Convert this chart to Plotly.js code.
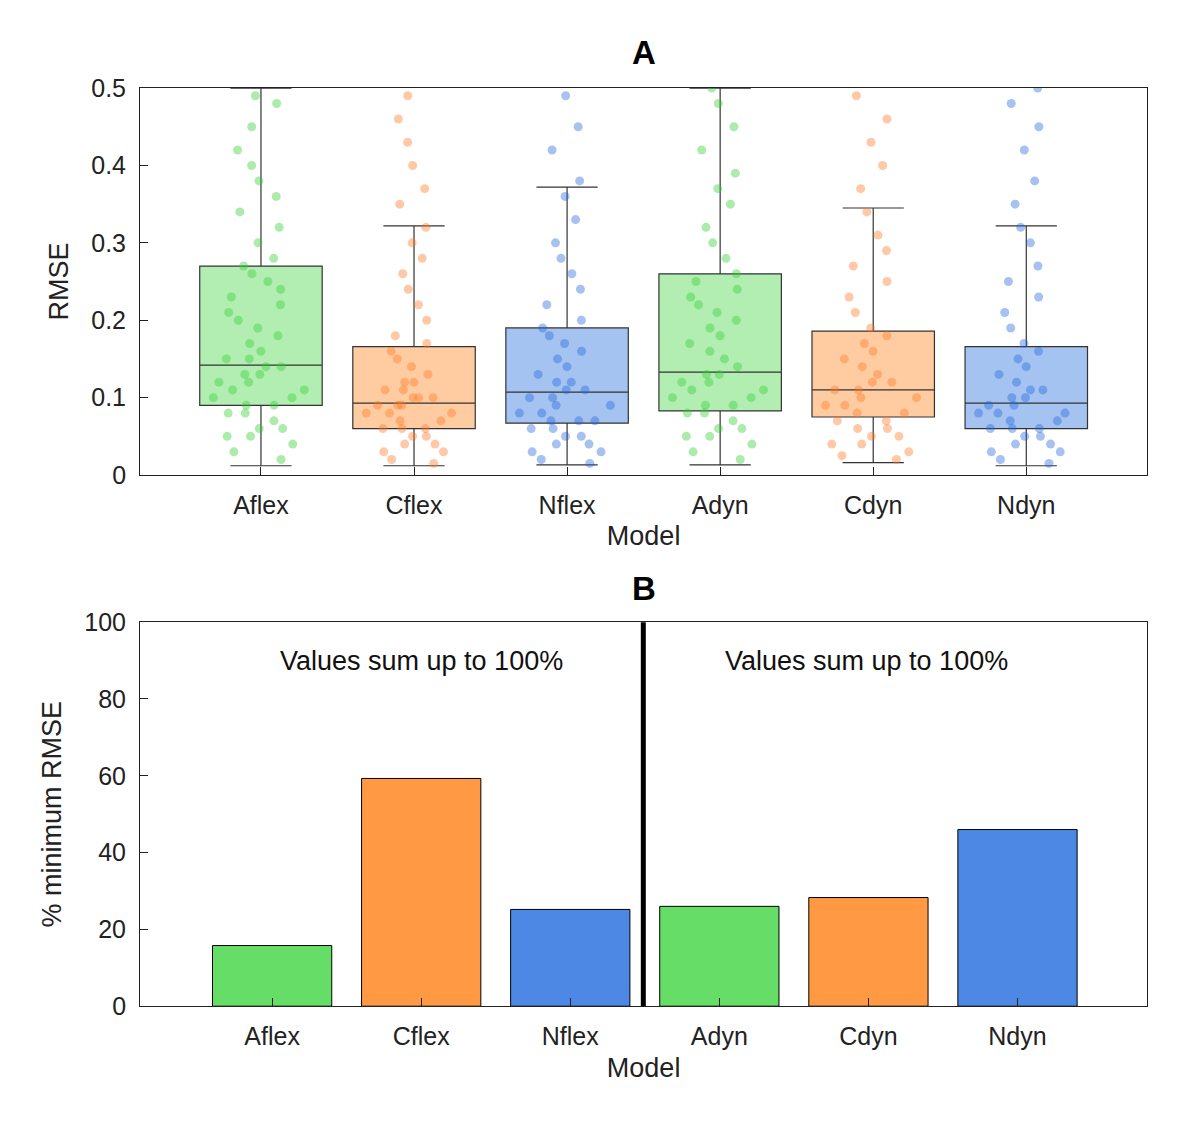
<!DOCTYPE html>
<html>
<head>
<meta charset="utf-8">
<script src="https://cdn.plot.ly/plotly-3.0.1.min.js"></script>
<style>body{margin:0;background:#fff}</style>
</head>
<body>
<div id="chart" style="width:1200px;height:1123px"></div>
<script>
const models = ["Aflex", "Cflex", "Nflex", "Adyn", "Cdyn", "Ndyn"];
const xpos = [1, 2, 3, 4, 5, 6];

// box statistics
const q1 = [0.090, 0.060, 0.067, 0.083, 0.075, 0.060];
const median = [0.142, 0.093, 0.107, 0.133, 0.110, 0.093];
const q3 = [0.270, 0.166, 0.190, 0.260, 0.186, 0.166];
const lowerFence = [0.012, 0.012, 0.013, 0.013, 0.016, 0.012];
const upperFence = [0.500, 0.322, 0.372, 0.500, 0.345, 0.322];

// sample of the jittered RMSE points (estimated)
const aflexPts = [0.02,0.03,0.04,0.05,0.05,0.06,0.06,0.07,0.08,0.08,0.09,0.09,0.10,0.10,0.11,0.11,0.12,0.12,0.13,0.13,0.14,0.14,0.15,0.15,0.16,0.17,0.18,0.19,0.20,0.21,0.22,0.23,0.24,0.25,0.26,0.27,0.28,0.30,0.32,0.34,0.36,0.38,0.40,0.42,0.45,0.48,0.49];
const cflexPts = [0.015,0.02,0.03,0.03,0.04,0.04,0.05,0.05,0.06,0.06,0.06,0.07,0.07,0.08,0.08,0.08,0.09,0.09,0.09,0.10,0.10,0.10,0.11,0.11,0.12,0.12,0.13,0.14,0.15,0.16,0.17,0.18,0.20,0.22,0.24,0.26,0.28,0.30,0.32,0.35,0.37,0.40,0.43,0.46,0.49];
const nflexPts = [0.015,0.02,0.03,0.03,0.04,0.04,0.05,0.05,0.06,0.06,0.07,0.07,0.07,0.08,0.08,0.09,0.09,0.10,0.10,0.11,0.11,0.12,0.12,0.13,0.14,0.15,0.16,0.17,0.18,0.19,0.20,0.22,0.24,0.26,0.28,0.30,0.33,0.36,0.38,0.42,0.45,0.49];
const adynPts = [0.02,0.03,0.04,0.05,0.05,0.06,0.06,0.07,0.08,0.08,0.09,0.09,0.10,0.10,0.11,0.11,0.12,0.12,0.13,0.13,0.14,0.15,0.16,0.17,0.18,0.19,0.20,0.21,0.22,0.23,0.24,0.25,0.26,0.28,0.30,0.32,0.35,0.37,0.39,0.42,0.45,0.48,0.50];
const cdynPts = [0.02,0.025,0.03,0.04,0.04,0.05,0.05,0.06,0.06,0.07,0.07,0.08,0.08,0.09,0.09,0.10,0.10,0.11,0.11,0.12,0.12,0.13,0.14,0.15,0.16,0.17,0.18,0.19,0.21,0.23,0.25,0.27,0.29,0.31,0.34,0.37,0.40,0.43,0.46,0.49];
const ndynPts = [0.015,0.02,0.03,0.03,0.04,0.04,0.05,0.05,0.06,0.06,0.06,0.07,0.07,0.08,0.08,0.08,0.09,0.09,0.10,0.10,0.11,0.11,0.12,0.13,0.14,0.15,0.16,0.17,0.19,0.21,0.23,0.25,0.27,0.30,0.32,0.35,0.38,0.42,0.45,0.48,0.50];
const points = [aflexPts, cflexPts, nflexPts, adynPts, cdynPts, ndynPts];

// panel B
const pctMin = [15.8, 59.3, 25.2, 26.0, 28.3, 46.0];

const boxFill = ["rgba(102,221,102,0.5)", "rgba(255,153,68,0.5)", "rgba(76,136,228,0.5)"];
const ptColor = ["rgba(51,204,51,0.4)", "rgba(255,119,34,0.4)", "rgba(34,102,221,0.4)"];
const barColor = ["#66DD66", "#FF9944", "#4C88E4"];

const traces = [];
models.forEach((m, i) => {
  traces.push({
    type: "box", x: [xpos[i]], q1: [q1[i]], median: [median[i]], q3: [q3[i]],
    lowerfence: [lowerFence[i]], upperfence: [upperFence[i]],
    fillcolor: boxFill[i % 3], line: { color: "#333", width: 1.2 }, width: 0.8,
    whiskerwidth: 0.5, boxpoints: false, name: m, showlegend: false,
    xaxis: "x", yaxis: "y"
  });
  traces.push({
    type: "box", x: points[i].map(() => xpos[i]), y: points[i],
    boxpoints: "all", jitter: 0.8, pointpos: 0, width: 0.8,
    fillcolor: "rgba(0,0,0,0)", line: { color: "rgba(0,0,0,0)" },
    marker: { color: ptColor[i % 3], size: 9 }, name: m, showlegend: false,
    xaxis: "x", yaxis: "y"
  });
});
traces.push({
  type: "bar", x: xpos, y: pctMin, width: 0.8,
  marker: { color: models.map((m, i) => barColor[i % 3]), line: { color: "#000", width: 1 } },
  showlegend: false, xaxis: "x2", yaxis: "y2"
});

const font = { family: "Liberation Sans, Arial, sans-serif", size: 25, color: "#222" };
const tfont = { family: font.family, size: 27, color: "#222" };
const ax = { showline: true, mirror: true, linecolor: "#222", ticks: "inside", ticklen: 8, tickcolor: "#222", zeroline: false, showgrid: false };

const layout = {
  width: 1200, height: 1123, margin: { l: 0, r: 0, t: 0, b: 0 },
  paper_bgcolor: "#fff", plot_bgcolor: "#fff", font: font, boxmode: "overlay",
  xaxis: Object.assign({}, ax, { domain: [0.1167, 0.956], anchor: "y", range: [0.21, 6.79],
    tickvals: xpos, ticktext: models, ticklabelstandoff: 8, title: { text: "Model", font: tfont, standoff: 8 } }),
  yaxis: Object.assign({}, ax, { domain: [0.577, 0.9216], anchor: "x", range: [0, 0.5],
    tickvals: [0, 0.1, 0.2, 0.3, 0.4, 0.5], ticktext: ["0", "0.1", "0.2", "0.3", "0.4", "0.5"],
    ticklabelstandoff: 8, title: { text: "RMSE", font: tfont, standoff: 14 } }),
  xaxis2: Object.assign({}, ax, { domain: [0.1167, 0.956], anchor: "y2", range: [0.114, 6.87],
    tickvals: xpos, ticktext: models, ticklabelstandoff: 8, title: { text: "Model", font: tfont, standoff: 8 } }),
  yaxis2: Object.assign({}, ax, { domain: [0.104, 0.446], anchor: "x2", range: [0, 100],
    dtick: 20, ticklabelstandoff: 8, title: { text: "% minimum RMSE", font: tfont, standoff: 14 } }),
  shapes: [{ type: "line", xref: "x2", yref: "y2 domain", x0: 3.49, x1: 3.49, y0: 0, y1: 1,
    line: { color: "#000", width: 5 } }],
  annotations: [
    { text: "<b>A</b>", xref: "paper", yref: "paper", x: 0.537, y: 0.935, yanchor: "bottom", showarrow: false, font: { family: font.family, size: 33, color: "#000" } },
    { text: "<b>B</b>", xref: "paper", yref: "paper", x: 0.537, y: 0.458, yanchor: "bottom", showarrow: false, font: { family: font.family, size: 33, color: "#000" } },
    { text: "Values sum up to 100%", xref: "x2", yref: "y2", x: 2.0, y: 90, showarrow: false, font: { family: font.family, size: 27, color: "#111" } },
    { text: "Values sum up to 100%", xref: "x2", yref: "y2", x: 4.99, y: 90, showarrow: false, font: { family: font.family, size: 27, color: "#111" } }
  ]
};

Plotly.newPlot("chart", traces, layout, { displayModeBar: false });
</script>
</body>
</html>
